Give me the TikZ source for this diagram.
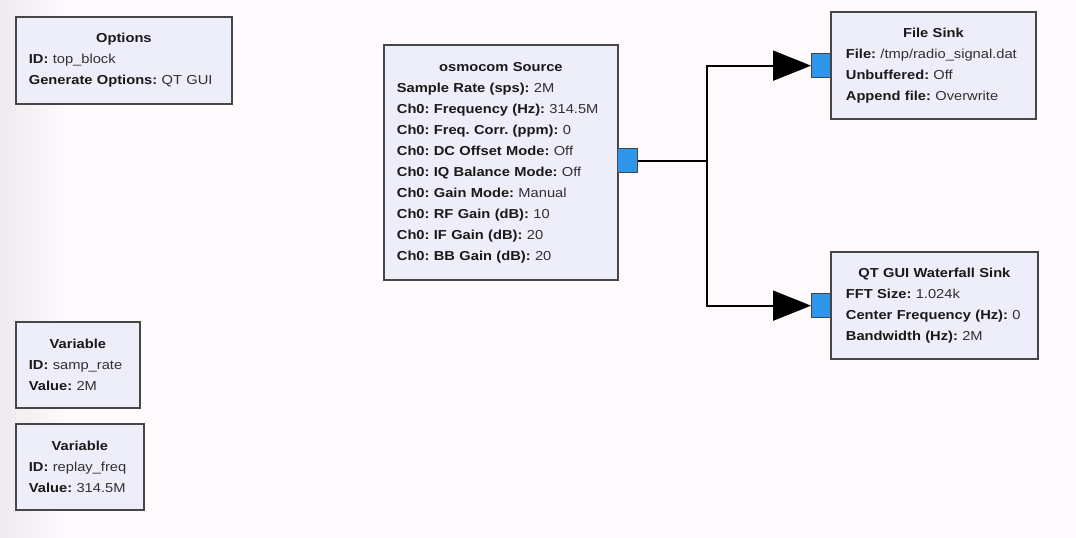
\documentclass[tikz,border=0pt]{standalone}
\usepackage{fontspec}
\setmainfont[FakeStretch=1.13]{Liberation Sans}
\usetikzlibrary{arrows.meta}
\definecolor{bg}{HTML}{FDF9FD}
\definecolor{bgedge}{HTML}{EDE9ED}
\definecolor{blockfill}{HTML}{EEEEFA}
\definecolor{blockline}{HTML}{464646}
\definecolor{portfill}{HTML}{2E96EA}
\definecolor{valcol}{HTML}{303030}
\frenchspacing
\newcommand{\kv}[2]{\mbox{\textbf{#1:} \textcolor{valcol}{#2}}}
\newcommand{\btitle}[1]{\makebox[\linewidth][c]{\textbf{#1}}}
\begin{document}
\begin{tikzpicture}[x=1pt,y=-1pt,
  block/.style={draw=blockline, fill=blockfill, line width=1.8pt, anchor=north west,
    inner xsep=13pt, inner ysep=0pt, align=left, text=black!90,
    font=\fontsize{13}{21}\selectfont\frenchspacing},
  port/.style={draw=blockline, fill=portfill, line width=1.3pt, minimum width=19pt,
    minimum height=24pt, inner sep=0pt, anchor=north west},
  conn/.style={draw=black, line width=2pt, line join=miter, -{Triangle[length=38pt,width=30pt]}}]
\useasboundingbox (0,0) rectangle (1076,538);
\fill[bg] (0,0) rectangle (1076,538);
\shade[left color=bgedge, right color=bg, draw=none] (0,0) rectangle (60,538);

\node[block, text width=190pt, minimum height=87pt] (opt) at (15,16)
  {\btitle{Options}\\ \kv{ID}{top\_block}\\ \kv{Generate Options}{QT GUI}};

\node[block, text width=208pt, minimum height=235pt] (src) at (383,44)
  {\btitle{osmocom Source}\\
   \kv{Sample Rate (sps)}{2M}\\
   \kv{Ch0: Frequency (Hz)}{314.5M}\\
   \kv{Ch0: Freq. Corr. (ppm)}{0}\\
   \kv{Ch0: DC Offset Mode}{Off}\\
   \kv{Ch0: IQ Balance Mode}{Off}\\
   \kv{Ch0: Gain Mode}{Manual}\\
   \kv{Ch0: RF Gain (dB)}{10}\\
   \kv{Ch0: IF Gain (dB)}{20}\\
   \kv{Ch0: BB Gain (dB)}{20}};

\node[block, inner xsep=15pt, text width=175pt, minimum height=107pt] (fs) at (830,11)
  {\btitle{File Sink}\\
   \kv{File}{/tmp/radio\_signal.dat}\\
   \kv{Unbuffered}{Off}\\
   \kv{Append file}{Overwrite}};

\node[block, inner xsep=15pt, text width=177pt, minimum height=107pt] (wf) at (830,251)
  {\btitle{QT GUI Waterfall Sink}\\
   \kv{FFT Size}{1.024k}\\
   \kv{Center Frequency (Hz)}{0}\\
   \kv{Bandwidth (Hz)}{2M}};

\node[block, text width=98pt, minimum height=86pt] (var1) at (15,321)
  {\btitle{Variable}\\ \kv{ID}{samp\_rate}\\ \kv{Value}{2M}};

\node[block, text width=102pt, minimum height=86pt] (var2) at (15,423)
  {\btitle{Variable}\\ \kv{ID}{replay\_freq}\\ \kv{Value}{314.5M}};

\node[port, minimum width=20pt] (srcport) at (617,148) {};
\node[port] (fsport) at (811,53) {};
\node[port] (wfport) at (811,293) {};

\coordinate (splitx) at (707,0);
\coordinate (split) at (srcport.east -| splitx);
\draw[conn] (srcport.east) -- (split) |- (fsport.west);
\draw[conn] (srcport.east) -- (split) |- (wfport.west);
\end{tikzpicture}
\end{document}
